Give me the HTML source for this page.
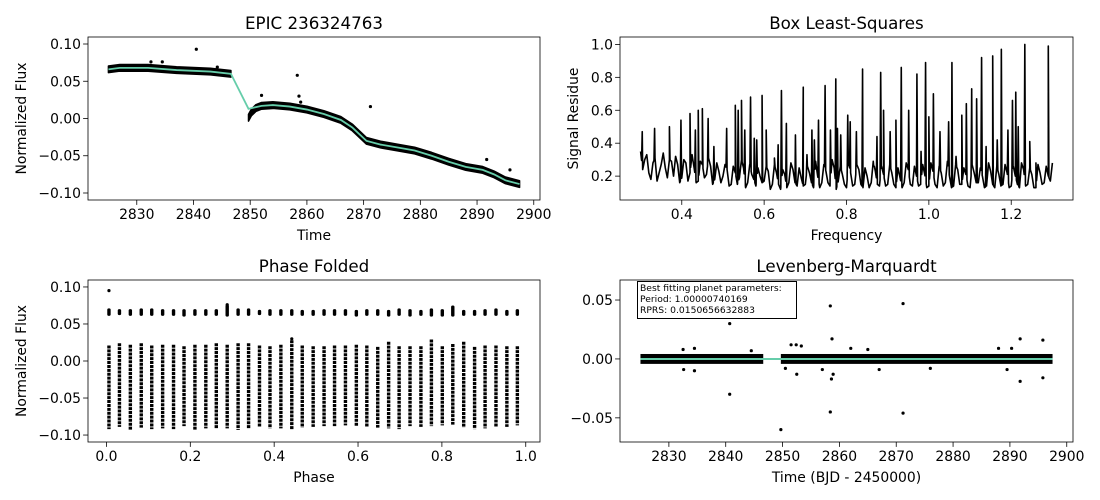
<!DOCTYPE html>
<html><head><meta charset="utf-8"><style>
html,body{margin:0;padding:0;background:#fff;}
svg{display:block;font-family:"DejaVu Sans","Liberation Sans",sans-serif;}
</style></head><body>
<svg id="fig" width="1100" height="500" viewBox="0 0 1100 500" xmlns="http://www.w3.org/2000/svg"></svg>
<script>
// ---- Top-left: light curve ----
const tlSeg1T=[2825,2827,2832,2837,2843,2846.6];
const tlSeg1F=[0.066,0.068,0.068,0.065,0.063,0.060];
const tlSeg2T=[2849.7,2850.2,2851,2852,2854,2857,2860,2863,2866,2868,2870.5,2873,2876,2879,2882,2885,2888,2891,2893,2895,2897.5];
const tlSeg2F=[0.001,0.008,0.014,0.017,0.018,0.016,0.012,0.006,-0.002,-0.012,-0.030,-0.035,-0.039,-0.043,-0.050,-0.058,-0.065,-0.069,-0.075,-0.083,-0.088];
const tlModelT=[2825,2827,2832,2837,2843,2846.6,2849.7,2852,2854,2857,2860,2863,2866,2868,2870.5,2873,2876,2879,2882,2885,2888,2891,2893,2895,2897.5];
const tlModelF=[0.066,0.068,0.068,0.065,0.063,0.060,0.013,0.017,0.018,0.016,0.012,0.006,-0.002,-0.012,-0.030,-0.035,-0.039,-0.043,-0.050,-0.058,-0.065,-0.069,-0.075,-0.083,-0.088];
const tlOutT=[2840.5,2858.3,2858.6,2871.2,2891.7,2895.8,2832.5,2834.5,2852,2858.9,2844.2];
const tlOutF=[0.093,0.058,0.030,0.016,-0.055,-0.069,0.076,0.076,0.031,0.022,0.069];
const timeTicks=[2830,2840,2850,2860,2870,2880,2890,2900];
const fluxTicks=[0.10,0.05,0.00,-0.05,-0.10];
const fluxTickLabels=["0.10","0.05","0.00","\u22120.05","\u22120.10"];

// ---- Top-right: BLS ----
const blsBaseF0=0.30, blsBaseStep=0.01;
const blsBase=[0.35,0.30,0.22,0.28,0.17,0.27,0.25,0.30,0.20,0.27,
0.19,0.28,0.22,0.25,0.17,0.27,0.21,0.26,0.18,0.23,
0.20,0.24,0.15,0.22,0.19,0.25,0.16,0.21,0.14,0.20,
0.17,0.23,0.15,0.22,0.12,0.21,0.16,0.24,0.14,0.19,
0.15,0.22,0.13,0.20,0.16,0.23,0.14,0.25,0.17,0.21,
0.13,0.22,0.15,0.24,0.13,0.20,0.16,0.23,0.14,0.21,
0.15,0.22,0.13,0.19,0.16,0.24,0.14,0.20,0.15,0.21,
0.14,0.23,0.13,0.22,0.16,0.20,0.14,0.24,0.15,0.21,
0.13,0.22,0.16,0.20,0.14,0.23,0.13,0.21,0.15,0.22,
0.14,0.20,0.13,0.24,0.15,0.21,0.13,0.22,0.16,0.20,0.28];
const blsMid=[0.24,0.33,0.18,0.31,0.22,0.34,0.19,0.29,0.32,0.16,
0.30,0.17,0.33,0.16,0.29,0.19,0.31,0.15,0.28,0.16,
0.27,0.14,0.26,0.15,0.30,0.13,0.27,0.18,0.25,0.16,
0.26,0.12,0.27,0.15,0.24,0.13,0.28,0.16,0.25,0.14,
0.26,0.16,0.29,0.13,0.27,0.16,0.30,0.12,0.26,0.15,
0.28,0.14,0.27,0.15,0.25,0.13,0.29,0.15,0.26,0.14,
0.27,0.15,0.25,0.13,0.28,0.15,0.26,0.14,0.27,0.13,
0.28,0.15,0.26,0.14,0.29,0.13,0.27,0.15,0.25,0.14,
0.27,0.16,0.25,0.13,0.28,0.15,0.26,0.14,0.27,0.13,
0.26,0.15,0.28,0.14,0.25,0.13,0.27,0.15,0.26,0.17];
const blsSpikeF=[0.304,0.334,0.37,0.398,0.42,0.433,0.44,0.45,0.464,0.478,0.509,0.53,0.537,0.545,0.553,0.567,0.576,0.582,0.595,0.605,0.625,0.634,0.642,0.654,0.676,0.695,0.704,0.716,0.722,0.732,0.748,0.761,0.774,0.778,0.786,0.803,0.809,0.824,0.839,0.866,0.874,0.883,0.89,0.906,0.92,0.933,0.951,0.971,0.981,0.992,1.0,1.011,1.027,1.048,1.056,1.066,1.08,1.091,1.104,1.116,1.128,1.139,1.155,1.166,1.176,1.192,1.203,1.211,1.217,1.233,1.245,1.26,1.29];
const blsSpikeV=[0.47,0.49,0.5,0.54,0.58,0.48,0.6,0.61,0.55,0.38,0.49,0.63,0.6,0.66,0.48,0.68,0.43,0.42,0.69,0.48,0.31,0.39,0.72,0.52,0.45,0.74,0.33,0.48,0.42,0.54,0.75,0.48,0.79,0.49,0.45,0.57,0.53,0.47,0.85,0.26,0.44,0.83,0.6,0.47,0.54,0.86,0.6,0.82,0.35,0.89,0.56,0.7,0.47,0.53,0.89,0.32,0.57,0.64,0.73,0.67,0.92,0.38,0.93,0.42,0.97,0.48,0.66,0.71,0.5,1.0,0.41,0.28,0.99];
const freqTicks=[0.4,0.6,0.8,1.0,1.2];
const freqTickLabels=["0.4","0.6","0.8","1.0","1.2"];
const resTicks=[0.2,0.4,0.6,0.8,1.0];
const resTickLabels=["0.2","0.4","0.6","0.8","1.0"];

// ---- Bottom-left: phase folded ----
const blPhase=[0.006,0.031,0.057,0.083,0.108,0.134,0.160,0.185,0.211,0.237,0.262,0.288,0.314,0.339,0.365,0.390,0.416,0.442,0.467,0.493,0.519,0.544,0.570,0.596,0.621,0.647,0.673,0.698,0.724,0.750,0.775,0.801,0.826,0.852,0.878,0.903,0.929,0.955,0.980];
const blUpTop=[0.071,0.070,0.070,0.071,0.071,0.070,0.070,0.070,0.070,0.070,0.070,0.076,0.071,0.071,0.069,0.070,0.070,0.070,0.069,0.069,0.070,0.070,0.070,0.069,0.070,0.070,0.069,0.071,0.070,0.069,0.071,0.070,0.075,0.069,0.069,0.070,0.071,0.069,0.070];
const blUpBot=[0.061,0.062,0.061,0.061,0.061,0.061,0.061,0.060,0.061,0.061,0.061,0.060,0.061,0.061,0.062,0.061,0.061,0.061,0.061,0.061,0.061,0.061,0.061,0.060,0.061,0.061,0.060,0.061,0.060,0.061,0.060,0.060,0.060,0.061,0.061,0.061,0.061,0.061,0.061];
const blLoTop=[0.021,0.024,0.022,0.024,0.021,0.022,0.022,0.020,0.022,0.022,0.024,0.022,0.024,0.024,0.021,0.020,0.022,0.028,0.021,0.020,0.020,0.021,0.021,0.022,0.021,0.019,0.026,0.020,0.020,0.020,0.029,0.020,0.023,0.026,0.019,0.021,0.021,0.020,0.020];
const blLoBot=[-0.092,-0.089,-0.093,-0.090,-0.092,-0.091,-0.092,-0.088,-0.093,-0.091,-0.091,-0.091,-0.093,-0.091,-0.089,-0.091,-0.091,-0.093,-0.090,-0.089,-0.088,-0.088,-0.087,-0.088,-0.089,-0.090,-0.091,-0.092,-0.088,-0.089,-0.088,-0.087,-0.086,-0.090,-0.092,-0.091,-0.089,-0.089,-0.087];
const blOutP=[0.006,0.288,0.442];
const blOutF=[0.095,0.076,0.030];
const phaseTicks=[0.0,0.2,0.4,0.6,0.8,1.0];
const phaseTickLabels=["0.0","0.2","0.4","0.6","0.8","1.0"];

// ---- Bottom-right: LM residuals ----
const brSeg1T=[2825,2846.6];
const brSeg2T=[2849.7,2897.5];
const brModelT=[2825,2897.5];
const brModelF=[0.0,0.0];
const brOutT=[2840.7,2840.7,2849.7,2858.4,2858.4,2858.7,2858.6,2858.9,2871.2,2871.2,2891.8,2891.8,2895.8,2895.8,2832.5,2834.5,2832.6,2834.5,2851.5,2852.4,2853.3,2852.5,2850.5,2862,2888,2889.5,2890.3,2865,2876,2844.5,2857,2867];
const brOutF=[0.030,-0.030,-0.060,0.045,-0.045,0.017,-0.017,-0.013,0.047,-0.046,0.017,-0.019,0.016,-0.016,0.008,0.009,-0.009,-0.010,0.012,0.012,0.011,-0.013,-0.008,0.009,0.009,-0.009,0.009,0.008,-0.008,0.007,-0.009,-0.009];
const brTicks=[0.05,0.00,-0.05];
const brTickLabels=["0.05","0.00","\u22120.05"];

const NS="http://www.w3.org/2000/svg";
const fig=document.getElementById('fig');
function mk(tag,attrs,parent){const e=document.createElementNS(NS,tag);for(const k in attrs)e.setAttribute(k,attrs[k]);(parent||fig).appendChild(e);return e;}
function scale(d0,d1,r0,r1){return v=>r0+(v-d0)/(d1-d0)*(r1-r0);}

function axesFrame(g,box,sx,sy,xt,xtl,yt,ytl,title,xlabel,ylabel,prefix){
  const fr=mk('rect',{x:box.L,y:box.T,width:box.R-box.L,height:box.B-box.T,fill:'none',stroke:'#000','stroke-width':0.8},g);
  
  
  xt.forEach((v,i)=>{
    const x=sx(v);
    const t=mk('line',{x1:x,x2:x,y1:box.B,y2:box.B+4.9,stroke:'#000','stroke-width':0.8},g);
    
    
    const l=mk('text',{x:x,y:box.B+19,'text-anchor':'middle','font-size':13.9,fill:'#000'},g);
    l.textContent=xtl[i];
    
    
  });
  yt.forEach((v,i)=>{
    const y=sy(v);
    const t=mk('line',{x1:box.L-4.9,x2:box.L,y1:y,y2:y,stroke:'#000','stroke-width':0.8},g);
    
    
    const l=mk('text',{x:box.L-7,y:y+5,'text-anchor':'end','font-size':13.9,fill:'#000'},g);
    l.textContent=ytl[i];
    
    
  });
  const ti=mk('text',{x:(box.L+box.R)/2,y:box.T-8,'text-anchor':'middle','font-size':16.7,fill:'#000'},g);
  ti.textContent=title;
  
  
  const xl=mk('text',{x:(box.L+box.R)/2,y:box.B+40,'text-anchor':'middle','font-size':13.9,fill:'#000'},g);
  xl.textContent=xlabel;
  
  
  if(ylabel){
    const yx=box.ylx, yy=(box.T+box.B)/2;
    const yl=mk('text',{x:yx,y:yy,'text-anchor':'middle','font-size':13.9,fill:'#000',transform:'rotate(-90 '+yx+' '+yy+')'},g);
    yl.textContent=ylabel;
    
    
  }
}
function bandPath(ts,fs,hw,sx,sy){
  let up=ts.map((t,i)=>sx(t).toFixed(2)+','+sy(fs[i]+hw).toFixed(2));
  let dn=ts.map((t,i)=>sx(t).toFixed(2)+','+sy(fs[i]-hw).toFixed(2)).reverse();
  return 'M'+up.join(' L')+' L'+dn.join(' L')+' Z';
}
function linePath(ts,fs,sx,sy){return 'M'+ts.map((t,i)=>sx(t).toFixed(2)+','+sy(fs[i]).toFixed(2)).join(' L');}
const GREEN='#66cdaa';

// ===== Top-left =====
(function(){
  const box={L:88,R:540,T:37,B:200,ylx:26};
  const sx=scale(2821.4,2901.1,box.L,box.R), sy=scale(-0.1094,0.1094,box.B,box.T);
  const g=mk('g',{});
  
  
  const hw=0.0045;
  [[tlSeg1T,tlSeg1F],[tlSeg2T,tlSeg2F]].forEach(s=>{
    const p=mk('path',{d:bandPath(s[0],s[1],hw,sx,sy),fill:'#000',stroke:'#000','stroke-width':1.5,'stroke-linejoin':'round'},g);
    
    
  });
  tlOutT.forEach((t,i)=>{
    const c=mk('circle',{cx:sx(t),cy:sy(tlOutF[i]),r:1.6,fill:'#000'},g);
    
    
  });
  const m=mk('path',{d:linePath(tlModelT,tlModelF,sx,sy),fill:'none',stroke:GREEN,'stroke-width':1.8},g);
  
  
  axesFrame(g,box,sx,sy,timeTicks,timeTicks.map(String),fluxTicks,fluxTickLabels,'EPIC 236324763','Time','Normalized Flux','tl');
})();

// ===== Top-right =====
(function(){
  const box={L:620,R:1073,T:37,B:200,ylx:578};
  const sx=scale(0.25,1.35,box.L,box.R), sy=scale(0.055,1.045,box.B,box.T);
  const g=mk('g',{});
  
  
  const base=blsBase.map((v,i)=>[blsBaseF0+i*blsBaseStep,v]);
  blsMid.forEach((v,i)=>base.push([blsBaseF0+(i+0.5)*blsBaseStep,v]));
  base.sort((a,b)=>a[0]-b[0]);
  function baseAt(f){let i=0;while(i<base.length-2&&base[i+1][0]<f)i++;const r=Math.max(0,Math.min(1,(f-base[i][0])/(base[i+1][0]-base[i][0])));return base[i][1]*(1-r)+base[i+1][1]*r;}
  let pts=base.slice();
  blsSpikeF.forEach((f,i)=>{pts.push([f-0.0015,baseAt(f-0.0015)]);pts.push([f,blsSpikeV[i]]);pts.push([f+0.0015,baseAt(f+0.0015)]);});
  pts.sort((a,b)=>a[0]-b[0]);
  const d='M'+pts.map(p=>sx(p[0]).toFixed(2)+','+sy(p[1]).toFixed(2)).join(' L');
  const p=mk('path',{d:d,fill:'none',stroke:'#000','stroke-width':1.6,'stroke-linejoin':'round'},g);
  
  
  axesFrame(g,box,sx,sy,freqTicks,freqTickLabels,resTicks,resTickLabels,'Box Least-Squares','Frequency','Signal Residue','tr');
})();

// ===== Bottom-left =====
(function(){
  const box={L:88,R:540,T:280,B:442,ylx:26};
  const sx=scale(-0.044,1.034,box.L,box.R), sy=scale(-0.1094,0.1094,box.B,box.T);
  const g=mk('g',{});
  
  
  blPhase.forEach((ph,i)=>{
    const x=sx(ph);
    const u=mk('rect',{x:x-1.7,y:sy(blUpTop[i]),width:3.4,height:sy(blUpBot[i])-sy(blUpTop[i]),rx:1.5,fill:'#000'},g);
    
    
    const l=mk('line',{x1:x,x2:x,y1:sy(blLoTop[i]),y2:sy(blLoBot[i]),stroke:'#000','stroke-width':3.4,'stroke-dasharray':'3 0.9'},g);
    
    
  });
  blOutP.forEach((p,i)=>{
    const c=mk('circle',{cx:sx(p),cy:sy(blOutF[i]),r:1.6,fill:'#000'},g);
    
    
  });
  axesFrame(g,box,sx,sy,phaseTicks,phaseTickLabels,fluxTicks,fluxTickLabels,'Phase Folded','Phase','Normalized Flux','bl');
})();

// ===== Bottom-right =====
(function(){
  const box={L:620,R:1073,T:280,B:442,ylx:null};
  const sx=scale(2821.4,2901.1,box.L,box.R), sy=scale(-0.0705,0.067,box.B,box.T);
  const g=mk('g',{});
  
  
  const hw=0.0042;
  [brSeg1T,brSeg2T].forEach(s=>{
    const r=mk('rect',{x:sx(s[0]),y:sy(hw),width:sx(s[1])-sx(s[0]),height:sy(-hw)-sy(hw),fill:'#000'},g);
    
    
  });
  brOutT.forEach((t,i)=>{
    const c=mk('circle',{cx:sx(t),cy:sy(brOutF[i]),r:1.6,fill:'#000'},g);
    
    
  });
  const m=mk('path',{d:linePath(brModelT,brModelF,sx,sy),fill:'none',stroke:GREEN,'stroke-width':2},g);
  
  
  axesFrame(g,box,sx,sy,timeTicks,timeTicks.map(String),brTicks,brTickLabels,'Levenberg-Marquardt','Time (BJD - 2450000)',null,'br');
  const tb=mk('g',{},g);
  
  
  const br=mk('rect',{x:637.5,y:281.5,width:159,height:37,fill:'#fff',stroke:'#000','stroke-width':1},tb);
  
  
  const lines=['Best fitting planet parameters:','Period: 1.00000740169','RPRS: 0.0150656632883'];
  lines.forEach((s,i)=>{
    const t=mk('text',{x:640,y:291+i*11,'font-size':9.2,fill:'#000'},tb);
    t.textContent=s;
    
    
  });
})();
</script>
</body></html>
